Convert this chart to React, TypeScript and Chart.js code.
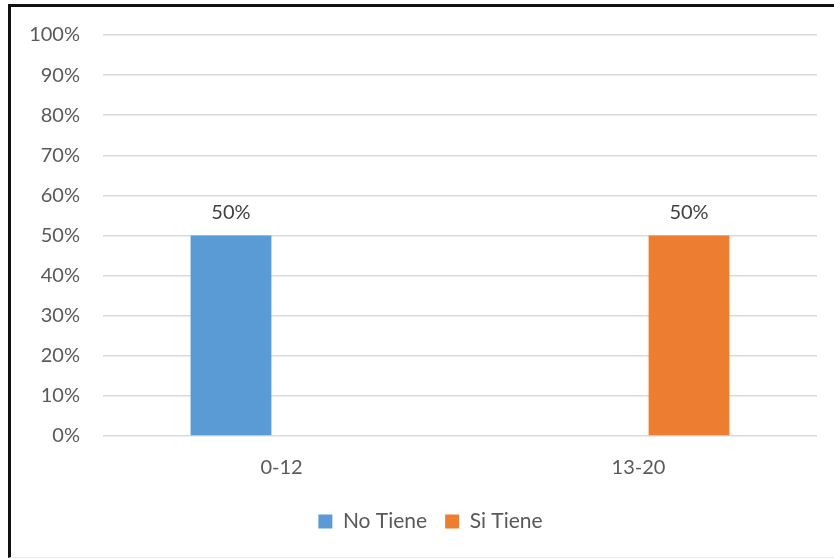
import { useEffect, useRef } from 'react';
import { Chart, registerables } from 'chart.js';

Chart.register(...registerables);

// Age ranges on the x axis
const categories = ['0-12', '13-20'];
// Percentage per series
const noTiene = [50, 0];
const siTiene = [0, 50];

const FONT = 'Lato, "Open Sans", sans-serif';
const TEXT = '#595959';

// Writes the value above every non-empty bar
const valueLabels = {
  id: 'valueLabels',
  afterDatasetsDraw(chart: any) {
    const { ctx } = chart;
    ctx.save();
    ctx.font = `20px ${FONT}`;
    ctx.fillStyle = '#404040';
    ctx.textAlign = 'center';
    ctx.textBaseline = 'middle';
    chart.data.datasets.forEach((ds: any, i: number) => {
      const meta = chart.getDatasetMeta(i);
      meta.data.forEach((bar: any, j: number) => {
        const v = ds.data[j];
        if (!v) return;
        ctx.fillText(`${v}%`, bar.x, bar.y - 23);
      });
    });
    ctx.restore();
  },
};

// Centres the legend under the plot rather than under the whole canvas
const legendShift = {
  id: 'legendShift',
  afterLayout(chart: any) {
    const legend = chart.legend;
    if (!legend) return;
    legend.left += 18;
    legend.right += 18;
  },
};

export default function App() {
  const canvasRef = useRef<HTMLCanvasElement | null>(null);

  useEffect(() => {
    if (!canvasRef.current) return;
    const chart = new Chart(canvasRef.current, {
      type: 'bar',
      data: {
        labels: categories,
        datasets: [
          {
            label: 'No Tiene',
            data: noTiene,
            backgroundColor: '#5B9BD5',
            borderWidth: 0,
            categoryPercentage: 0.566,
            barPercentage: 0.8,
          },
          {
            label: 'Si Tiene',
            data: siTiene,
            backgroundColor: '#ED7D31',
            borderWidth: 0,
            categoryPercentage: 0.566,
            barPercentage: 0.8,
          },
        ],
      },
      options: {
        animation: false,
        responsive: false,
        devicePixelRatio: 1,
        layout: { padding: { left: 8, right: 17, top: 35, bottom: 17 } },
        plugins: {
          legend: {
            position: 'bottom',
            labels: {
              boxWidth: 14,
              boxHeight: 14,
              padding: 18,
              color: TEXT,
              font: { family: FONT, size: 21 },
            },
          },
          tooltip: { enabled: false },
        },
        scales: {
          x: {
            grid: { display: false, drawTicks: false },
            border: { display: false },
            ticks: { color: TEXT, font: { family: FONT, size: 20 }, padding: 20 },
            afterFit(scale: any) {
              scale.height = 57;
            },
          },
          y: {
            min: 0,
            max: 100,
            ticks: {
              stepSize: 10,
              color: TEXT,
              font: { family: FONT, size: 20 },
              padding: 23,
              callback: (v: any) => `${v}%`,
            },
            grid: { color: '#d9d9d9', lineWidth: 1.5, drawTicks: false },
            border: { display: false },
            afterFit(scale: any) {
              scale.width = 95;
            },
          },
        },
      },
      plugins: [valueLabels, legendShift],
    });
    return () => chart.destroy();
  }, []);

  return (
    <div
      style={{
        position: 'fixed',
        left: 0,
        top: 0,
        width: 834,
        height: 559,
        background: '#ffffff',
        overflow: 'hidden',
      }}
    >
      <canvas
        ref={canvasRef}
        width={834}
        height={559}
        style={{ position: 'absolute', left: 0, top: 0, width: 834, height: 559 }}
      />
      <div
        style={{
          position: 'absolute',
          left: 8,
          top: 4,
          width: 840,
          height: 554,
          boxSizing: 'border-box',
          borderTop: '3px solid #111111',
          borderLeft: '3px solid #111111',
          borderBottom: '1px solid #ececec',
          pointerEvents: 'none',
        }}
      />
    </div>
  );
}
